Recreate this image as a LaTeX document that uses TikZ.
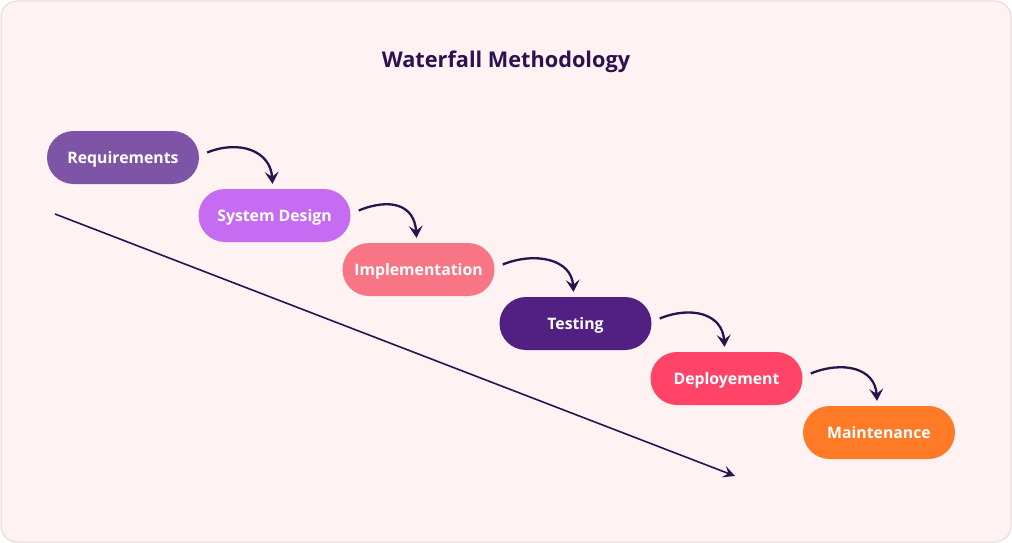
\documentclass[tikz,border=0pt]{standalone}
\usepackage{fontspec}
\setmainfont{Open Sans}
\usetikzlibrary{arrows.meta}
\definecolor{bgpink}{HTML}{FEF2F2}
\definecolor{bgline}{HTML}{EAD6DA}
\definecolor{ink}{HTML}{2D1150}
\definecolor{cReq}{HTML}{7E55A6}
\definecolor{cSys}{HTML}{C56CF2}
\definecolor{cImp}{HTML}{F87585}
\definecolor{cTest}{HTML}{521F82}
\definecolor{cDep}{HTML}{FF4468}
\definecolor{cMain}{HTML}{FF7A27}
\tikzset{
  phase/.style={rounded corners=26.5pt, minimum width=152pt, minimum height=53pt,
    inner sep=0pt, text=white, text height=11.4pt, text depth=0pt,
    font=\bfseries\fontsize{15.8}{18}\selectfont},
  flow/.style={draw=ink, line width=2.3pt, -{Stealth[length=12pt,width=14pt,inset=5pt]}},
  trend/.style={draw=ink, line width=1.6pt, -{Stealth[length=12pt,width=12pt,inset=5pt]}},
}
\begin{document}
\begin{tikzpicture}[x=1pt,y=-1pt]
\useasboundingbox (0,0) rectangle (1012,543);
\draw[fill=bgpink, draw=bgline, line width=1pt, rounded corners=16pt] (1,1) rectangle (1011,542);
\node[text=ink, text height=15.6pt, text depth=0pt, inner sep=0pt, font=\bfseries\fontsize{21.7}{24}\selectfont] (title) at (506,60) {Waterfall Methodology};
\node[phase, fill=cReq] (req) at (123,157.5) {Requirements};
\node[phase, fill=cSys] (sys) at (274.5,215.5) {System Design};
\node[phase, fill=cImp] (imp) at (418.5,269.5) {Implementation};
\node[phase, fill=cTest] (test) at (575.5,323.5) {Testing};
\node[phase, fill=cDep] (dep) at (726.5,378.5) {Deployement};
\node[phase, fill=cMain] (main) at (879,432.5) {Maintenance};
\foreach \a/\b in {req/sys, sys/imp, imp/test, test/dep, dep/main}{
  \draw[flow] ([shift={(8pt,5pt)}]\a.east) .. controls +(32pt,13pt) and +(-2pt,33pt) .. ([shift={(-2pt,5pt)}]\b.north);
}
\coordinate (ts) at (55,214);
\coordinate (te) at (735,476);
\draw[trend] (ts) -- (te);
\end{tikzpicture}
\end{document}
